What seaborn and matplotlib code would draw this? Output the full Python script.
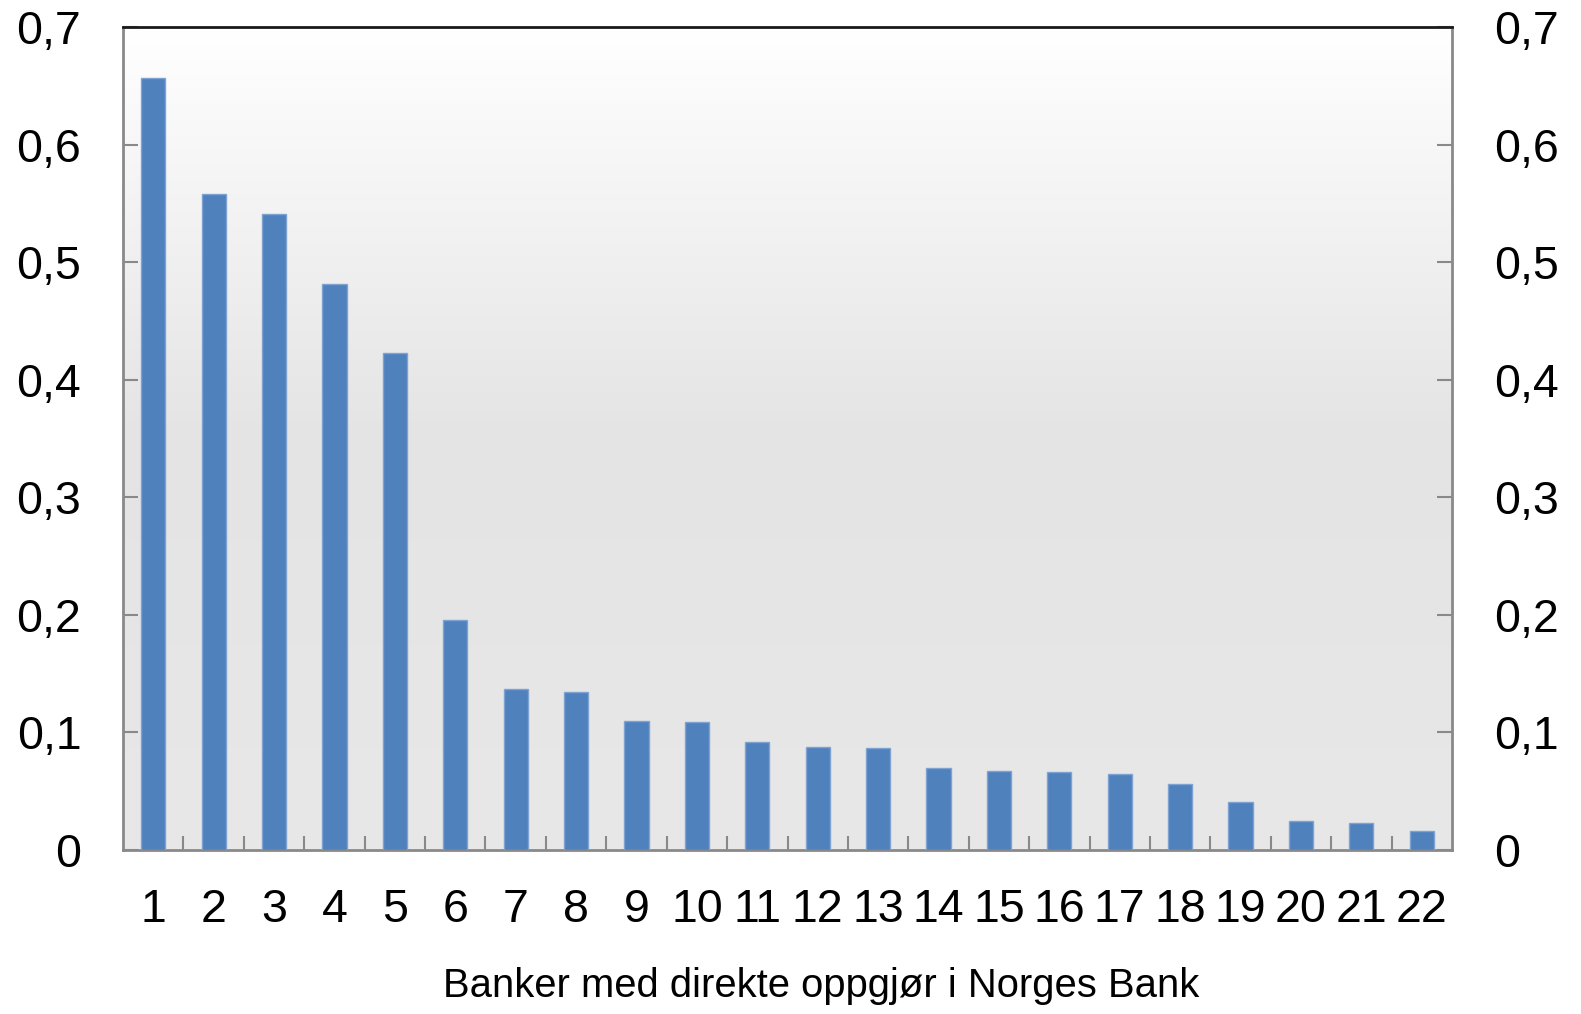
import numpy as np
import pandas as pd
import matplotlib
matplotlib.use("Agg")
import matplotlib.pyplot as plt
from matplotlib.colors import LinearSegmentedColormap
from matplotlib.ticker import FixedLocator, FuncFormatter
import seaborn as sns

banks = [str(i) for i in range(1, 23)]
values = [0.657, 0.558, 0.541, 0.481, 0.423, 0.196, 0.137, 0.134, 0.110, 0.109,
          0.092, 0.088, 0.087, 0.070, 0.067, 0.066, 0.065, 0.056, 0.041, 0.025,
          0.023, 0.016]
yticks = [0, 0.1, 0.2, 0.3, 0.4, 0.5, 0.6, 0.7]
xlabel = "Banker med direkte oppgjør i Norges Bank"

sns.set_theme(style="white")
plt.rcParams['font.family'] = ['Liberation Sans', 'DejaVu Sans']

fig = plt.figure(figsize=(15.81, 10.14), dpi=100)
ax = fig.add_axes([123/1581, 1-850/1014, (1452-123)/1581, (850-27)/1014])

df = pd.DataFrame({"bank": banks, "value": values})
sns.barplot(data=df, x="bank", y="value", ax=ax, color="#4f81bd", saturation=1,
            width=0.4, edgecolor="#7ea3d3", linewidth=1, zorder=3)

# gradient background
cmap = LinearSegmentedColormap.from_list("bg", [(0, "#e8e8e8"), (0.5, "#e4e4e4"), (1.0, "#ffffff")])
grad = np.linspace(0, 1, 256).reshape(-1, 1)
ax.imshow(grad, extent=[0, 1, 0, 1], transform=ax.transAxes, origin="lower",
          aspect="auto", cmap=cmap, zorder=0)

ax.set_xlim(-0.5, len(banks) - 0.5)
ax.set_ylim(0, 0.7)
ax.set_yticks(yticks)
ax.yaxis.set_major_formatter(FuncFormatter(lambda v, p: ("%g" % round(v, 1)).replace(".", ",")))
ax.set_xlabel("")
ax.set_ylabel("")

ax.xaxis.set_minor_locator(FixedLocator([i + 0.5 for i in range(len(banks) - 1)]))
ax.tick_params(axis="x", which="major", length=0, pad=27, labelsize=33.5, colors="black")
ax.tick_params(axis="x", which="minor", bottom=True, direction="in", length=10, width=1.5, color="#898989")
ax.tick_params(axis="y", which="major", left=True, right=True, labelleft=True, labelright=True,
               direction="in", length=11, width=1.5, color="#898989", pad=30, labelsize=33.5, labelcolor="black")

for s in ["left", "right", "bottom"]:
    ax.spines[s].set_color("#898989")
    ax.spines[s].set_linewidth(2)
    ax.spines[s].set_visible(True)
ax.spines["top"].set_color("#1a1a1a")
ax.spines["top"].set_linewidth(2)
ax.spines["top"].set_visible(True)

fig.text(821/1581, 1-986/1014, xlabel, ha="center", va="center", fontsize=28.8, color="black")

fig.savefig("out.png", dpi=100)
